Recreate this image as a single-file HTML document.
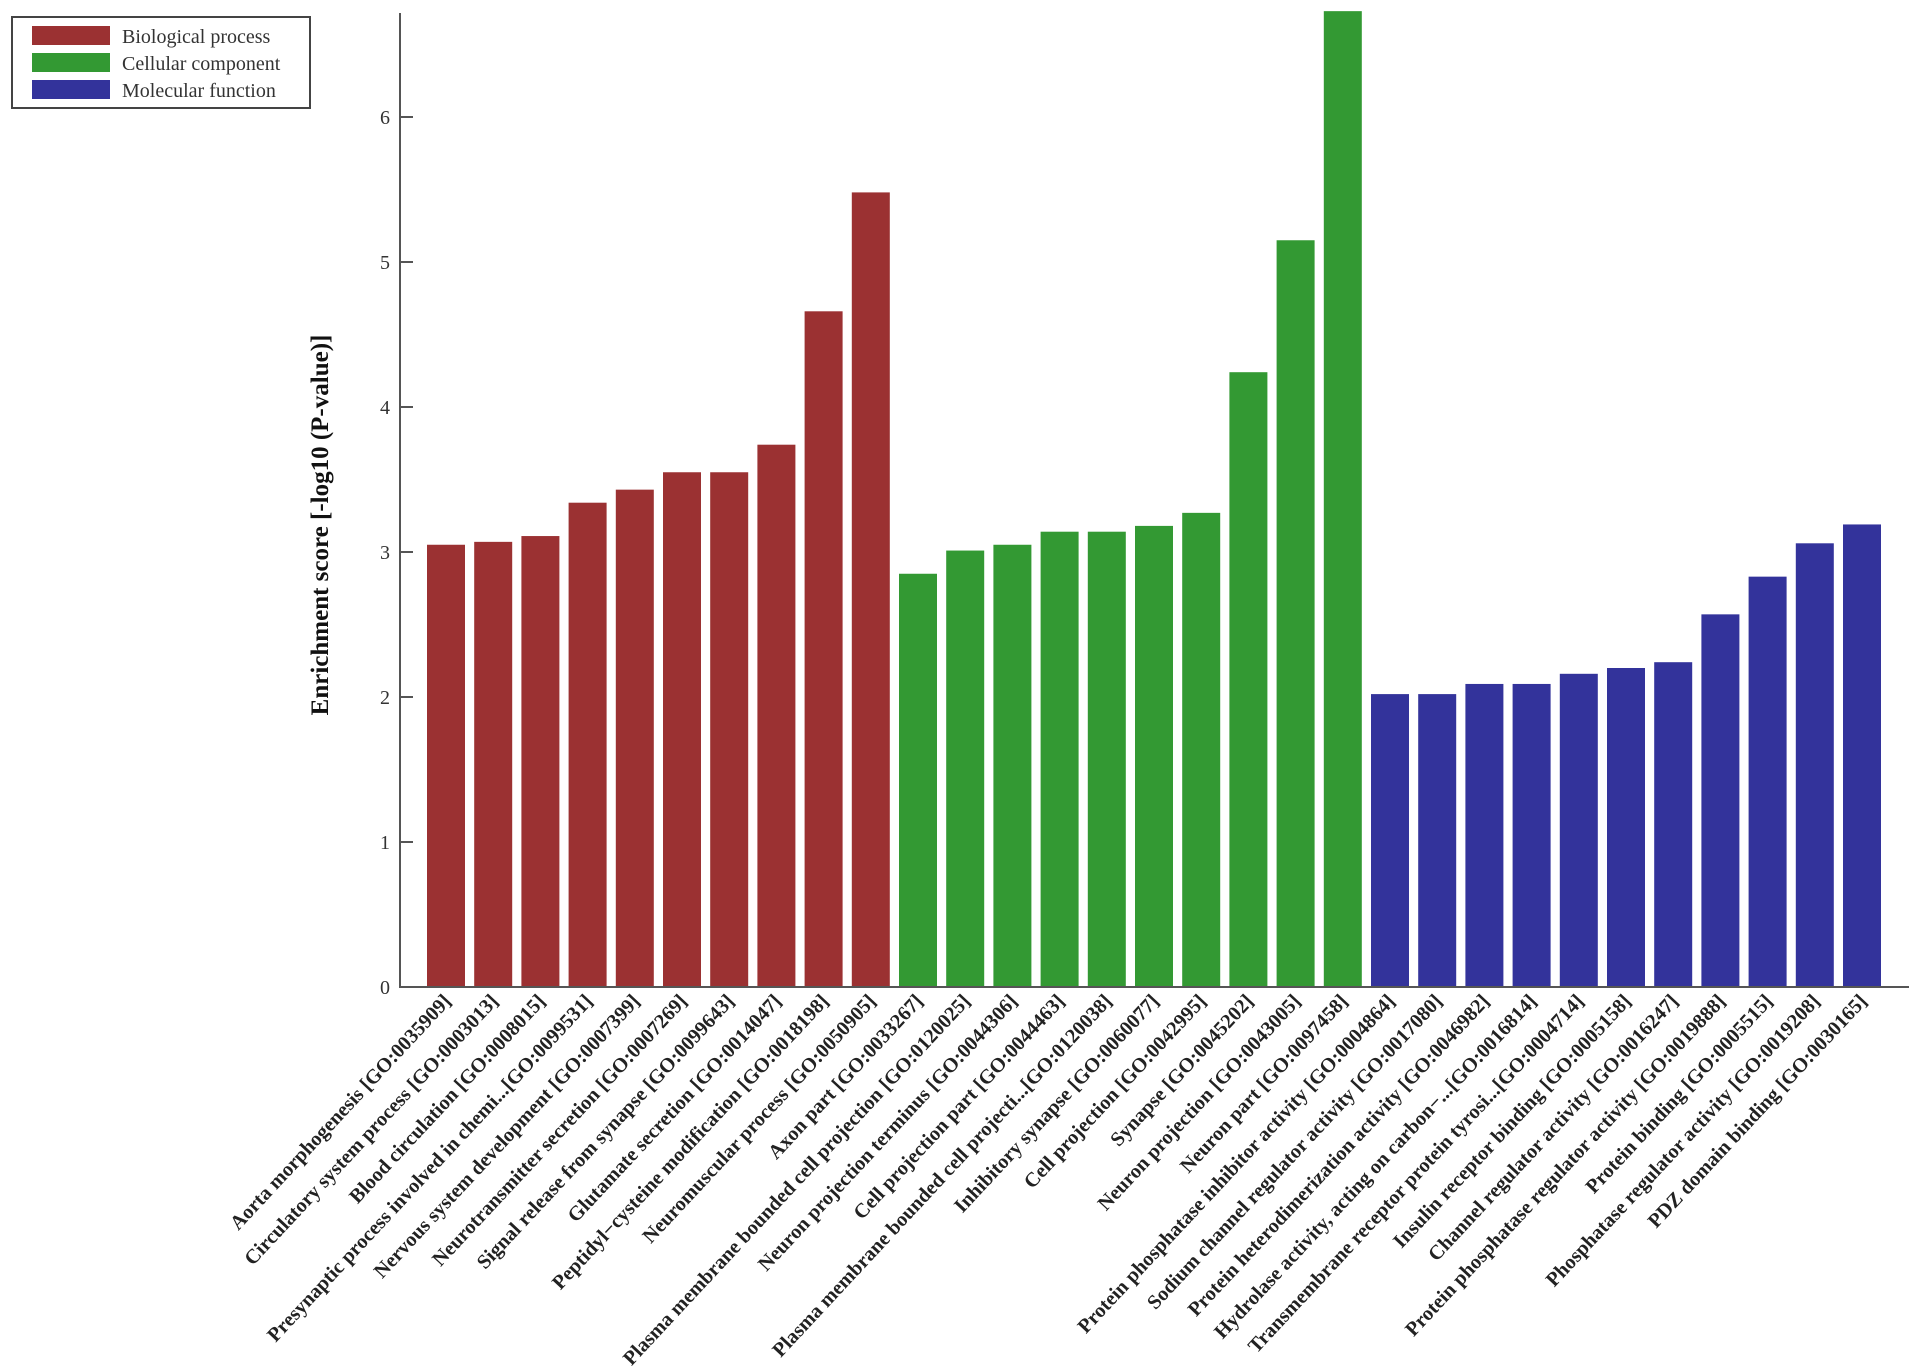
<!DOCTYPE html>
<html><head><meta charset="utf-8"><style>
html,body{margin:0;padding:0;background:#fff;}
svg{display:block;}
text{font-family:"Liberation Serif",serif;}
</style></head><body>
<svg id="chart" width="1913" height="1370" xmlns="http://www.w3.org/2000/svg">
<g id="legend">
<rect x="12" y="17" width="298" height="91" fill="#fff" stroke="#444" stroke-width="2"/>
<rect x="32" y="26" width="78" height="19" fill="#9b3132"/>
<text x="122" y="43" font-size="20" fill="#333">Biological process</text>
<rect x="32" y="53" width="78" height="19" fill="#339933"/>
<text x="122" y="70" font-size="20" fill="#333">Cellular  component</text>
<rect x="32" y="80" width="78" height="19" fill="#33339b"/>
<text x="122" y="97" font-size="20" fill="#333">Molecular function</text>
</g>
<text transform="translate(328,525) rotate(-90)" text-anchor="middle" font-size="25" font-weight="bold" fill="#111">Enrichment score [-log10 (P-value)]</text>
<g id="bars"></g>
<g id="axes"></g>
<g id="xlabels"></g>
</svg>
<script>
const bpLabels=["Aorta morphogenesis [GO:0035909]","Circulatory system process [GO:0003013]","Blood circulation [GO:0008015]","Presynaptic process involved in chemi...[GO:0099531]","Nervous system development [GO:0007399]","Neurotransmitter secretion [GO:0007269]","Signal release from synapse [GO:0099643]","Glutamate secretion [GO:0014047]","Peptidyl\u2212cysteine modification [GO:0018198]","Neuromuscular process [GO:0050905]"];
const bpValues=[3.05,3.07,3.11,3.34,3.43,3.55,3.55,3.74,4.66,5.48];
const ccLabels=["Axon part [GO:0033267]","Plasma membrane bounded cell projection [GO:0120025]","Neuron projection terminus [GO:0044306]","Cell projection part [GO:0044463]","Plasma membrane bounded cell projecti...[GO:0120038]","Inhibitory synapse [GO:0060077]","Cell projection [GO:0042995]","Synapse [GO:0045202]","Neuron projection [GO:0043005]","Neuron part [GO:0097458]"];
const ccValues=[2.85,3.01,3.05,3.14,3.14,3.18,3.27,4.24,5.15,6.73];
const mfLabels=["Protein phosphatase inhibitor activity [GO:0004864]","Sodium channel regulator activity [GO:0017080]","Protein heterodimerization activity [GO:0046982]","Hydrolase activity, acting on carbon\u2212...[GO:0016814]","Transmembrane receptor protein tyrosi...[GO:0004714]","Insulin receptor binding [GO:0005158]","Channel regulator activity [GO:0016247]","Protein phosphatase regulator activity [GO:0019888]","Protein binding [GO:0005515]","Phosphatase regulator activity [GO:0019208]","PDZ domain binding [GO:0030165]"];
const mfValues=[2.02,2.02,2.09,2.09,2.16,2.20,2.24,2.57,2.83,3.06,3.19];
const yTicks=[0,1,2,3,4,5,6];

const NS="http://www.w3.org/2000/svg";
const x0=427, pitch=47.2, bw=38, yZero=987, perUnit=145;
const yScale=v=>yZero-v*perUnit;
const xScale=i=>x0+i*pitch;
function mk(tag,attrs,parent){const e=document.createElementNS(NS,tag);for(const k in attrs)e.setAttribute(k,attrs[k]);parent.appendChild(e);return e;}
const groups=[[bpLabels,bpValues,"#9b3132","bp"],[ccLabels,ccValues,"#339933","cc"],[mfLabels,mfValues,"#33339b","mf"]];
const gb=document.getElementById('bars'),gl=document.getElementById('xlabels'),ga=document.getElementById('axes');
let idx=0;
groups.forEach(([labs,vals,col,key])=>{
  vals.forEach((v,j)=>{
    const r=mk('rect',{x:xScale(idx),y:yScale(v),width:bw,height:yZero-yScale(v),fill:col},gb);
    
    
    const cx=xScale(idx)+bw/2+6;
    const t=mk('text',{transform:`translate(${cx},1002) rotate(-47)`,'text-anchor':'end','font-size':'20.3','font-weight':'bold',fill:'#222'},gl);
    t.textContent=labs[j];
    
    
    idx++;
  });
});
const ya=mk('line',{x1:400,y1:13,x2:400,y2:yZero,stroke:'#555','stroke-width':2},ga);


const xa=mk('line',{x1:399,y1:yZero,x2:1909,y2:yZero,stroke:'#555','stroke-width':2},ga);


yTicks.forEach(v=>{
  const tk=mk('line',{x1:400,y1:yScale(v),x2:413,y2:yScale(v),stroke:'#555','stroke-width':2},ga);
  
  
  const tl=mk('text',{x:390,y:yScale(v)+7,'text-anchor':'end','font-size':'20',fill:'#333'},ga);
  tl.textContent=String(v);
  
  
});
</script>
</body></html>
